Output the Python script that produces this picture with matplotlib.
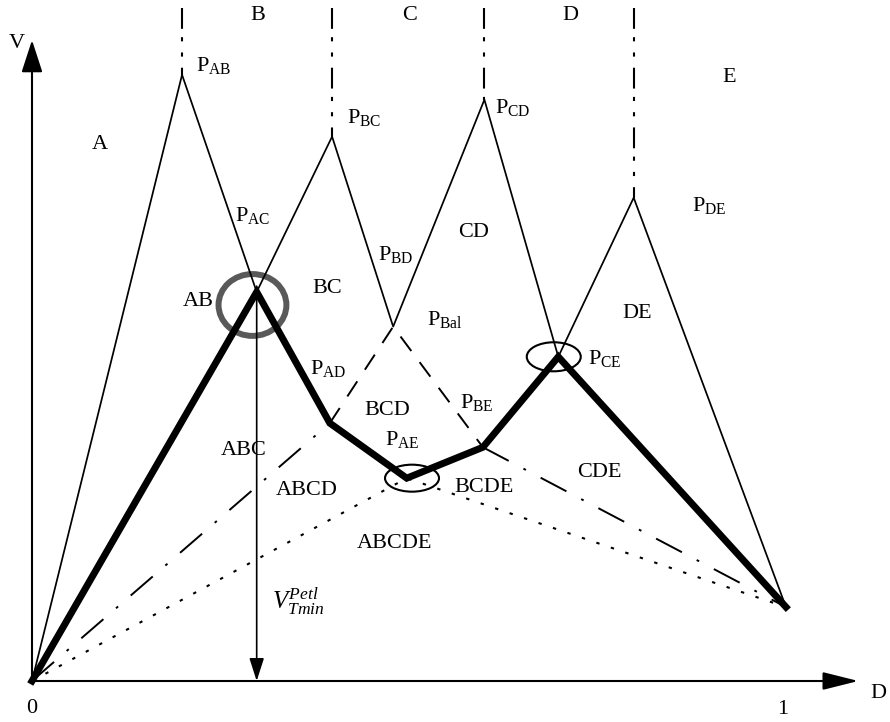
import matplotlib
matplotlib.use('Agg')
import matplotlib.pyplot as plt
from matplotlib.patches import Ellipse

plt.rcParams['font.family'] = 'Liberation Serif'
plt.rcParams['mathtext.fontset'] = 'custom'
plt.rcParams['mathtext.rm'] = 'Liberation Serif'
plt.rcParams['mathtext.it'] = 'Liberation Serif:italic'
plt.rcParams['lines.scale_dashes'] = False

# vertices of the diagram, (D, V)
origin = (0.0, 0.0)
p_ab = (0.199, 0.804)
p_ac = (0.298, 0.516)
p_bc = (0.398, 0.722)
p_bal = (0.479, 0.470)
p_cd = (0.600, 0.771)
p_ce = (0.698, 0.430)
p_de = (0.798, 0.641)
d_end = (1.0, 0.098)
p_ad = (0.395, 0.342)
p_ae = (0.497, 0.269)
p_be = (0.598, 0.310)
v_top = 0.893

envelope = [origin, p_ab, p_ac, p_bc, p_bal, p_cd, p_ce, p_de, d_end]
optimum = [origin, p_ac, p_ad, p_ae, p_be, p_ce, d_end]
dashed = [p_ad, p_bal, p_be]
dashdot = [[origin, p_ad], [p_be, d_end]]
dotted = [origin, p_ae, d_end]
peaks = [p_ab, p_bc, p_cd, p_de]

region_labels = [
    ('A', 0.090, 0.711), ('B', 0.300, 0.882), ('C', 0.501, 0.882),
    ('D', 0.714, 0.882), ('E', 0.924, 0.801), ('AB', 0.220, 0.503),
    ('BC', 0.391, 0.521), ('CD', 0.585, 0.595), ('DE', 0.802, 0.488),
    ('ABC', 0.281, 0.306), ('BCD', 0.471, 0.359), ('CDE', 0.753, 0.276),
    ('ABCD', 0.365, 0.253), ('BCDE', 0.599, 0.257), ('ABCDE', 0.481, 0.183),
]
point_labels = [
    ('AB', 0.2175, 0.816), ('BC', 0.418, 0.747), ('CD', 0.614, 0.760),
    ('DE', 0.875, 0.631), ('AC', 0.269, 0.618), ('BD', 0.459, 0.565),
    ('Bal', 0.524, 0.479), ('CE', 0.737, 0.428), ('AD', 0.369, 0.415),
    ('BE', 0.568, 0.370), ('AE', 0.468, 0.320),
]

fig = plt.figure(figsize=(8.9, 7.22), dpi=100)
ax = fig.add_axes([0, 0, 1, 1])
scale = 754.0
ax.set_xlim(-32 / scale, 858 / scale)
ax.set_ylim(-41 / scale, 681 / scale)
ax.axis('off')


def xy(pts):
    return [p[0] for p in pts], [p[1] for p in pts]


# region boundaries above the peaks (drawn from the top down)
for p in peaks:
    ax.plot([p[0], p[0]], [v_top, p[1]], color='k', lw=1.5,
            dashes=(15, 6, 3, 8, 3, 8))

ax.plot(*xy(envelope), color='k', lw=1.25)
ax.plot(*xy(dashed), color='k', lw=1.4, dashes=(13, 10))
for seg in dashdot:
    ax.plot(*xy(seg), color='k', lw=1.4, dashes=(21, 12, 2, 12))
ax.plot(*xy(dotted), color='k', lw=1.5, dashes=(2.4, 8.6))
ax.plot(*xy(optimum), color='k', lw=5, solid_joinstyle='miter')

# axes
arrow_kw = dict(color='k', lw=1.5, shrinkA=0, shrinkB=0, mutation_scale=10)
ax.annotate('', xy=(0, 0.85), xytext=(0, 0),
            arrowprops=dict(arrowstyle='-|>,head_length=2.0,head_width=0.65', **arrow_kw))
ax.annotate('', xy=(1.096, 0), xytext=(0, 0),
            arrowprops=dict(arrowstyle='-|>,head_length=2.2,head_width=0.55', **arrow_kw))
ax.annotate('', xy=(p_ac[0], 0), xytext=p_ac,
            arrowprops=dict(arrowstyle='-|>,head_length=1.4,head_width=0.45',
                            color='k', lw=1.2, shrinkA=0, shrinkB=0, mutation_scale=10))

# highlighted operating points
ax.add_patch(Ellipse((0.2924, 0.4987), 0.090, 0.082, fill=False,
                     ec='#595959', lw=4.3))
ax.add_patch(Ellipse((0.504, 0.269), 0.0716, 0.0358, fill=False, ec='k', lw=1.5))
ax.add_patch(Ellipse((0.692, 0.430), 0.0716, 0.0385, fill=False, ec='k', lw=1.5))

fs = 16
for txt, x, y in region_labels:
    ax.text(x, y, txt, fontsize=fs, ha='center', va='center')
for sub, x, y in point_labels:
    ax.text(x, y, r'P$_{\mathrm{%s}}$' % sub, fontsize=fs, ha='left', va='center')

ax.text(0.318, 0.105, r'$V_{Tmin}^{Petl}$', fontsize=18, ha='left', va='center')
ax.text(-0.0204, 0.846, 'V', fontsize=fs, ha='center', va='center')
ax.text(1.122, -0.016, 'D', fontsize=fs, ha='center', va='center')
ax.text(0.0, -0.037, '0', fontsize=fs, ha='center', va='center')
ax.text(0.996, -0.038, '1', fontsize=fs, ha='center', va='center')

fig.savefig('out.png', dpi=100)
